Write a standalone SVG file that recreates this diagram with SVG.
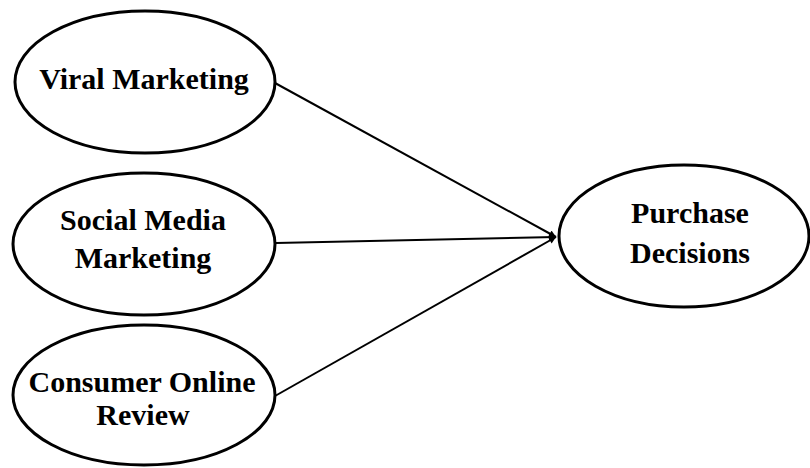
<svg xmlns="http://www.w3.org/2000/svg" width="810" height="468" viewBox="0 0 810 468">
  <defs>
    <marker id="arrow" viewBox="0 0 10 10" refX="10" refY="5" markerWidth="8" markerHeight="7" orient="auto" markerUnits="userSpaceOnUse">
      <path d="M0,0 L10,5 L0,10 z" fill="#000"/>
    </marker>
    <style>
      .node ellipse { fill: #fff; stroke: #000; stroke-width: 3; }
      .node text { font-family: "Liberation Serif", "Times New Roman", serif; font-weight: bold; font-size: 30px; fill: #000; text-anchor: middle; }
      .edge { stroke: #000; stroke-width: 2; fill: none; marker-end: url(#arrow); }
    </style>
  </defs>
  <rect width="810" height="468" fill="#fff"/>

  <g id="connectors">
    <line class="edge" x1="275" y1="83" x2="556" y2="237"/>
    <line class="edge" x1="276" y1="243" x2="556" y2="237"/>
    <line class="edge" x1="275" y1="396" x2="556" y2="237"/>
  </g>

  <g id="viral-marketing" class="node">
    <ellipse cx="145" cy="82" rx="130" ry="71"/>
    <text x="144" y="89">Viral Marketing</text>
  </g>

  <g id="social-media-marketing" class="node">
    <ellipse cx="144" cy="244" rx="131" ry="71"/>
    <text x="143" y="230">Social Media</text>
    <text x="143" y="268">Marketing</text>
  </g>

  <g id="consumer-online-review" class="node">
    <ellipse cx="144" cy="395" rx="131" ry="70"/>
    <text x="142" y="392">Consumer Online</text>
    <text x="143" y="425">Review</text>
  </g>

  <g id="purchase-decisions" class="node">
    <ellipse cx="684" cy="236" rx="125" ry="71"/>
    <text x="690" y="223">Purchase</text>
    <text x="690" y="263">Decisions</text>
  </g>
</svg>
